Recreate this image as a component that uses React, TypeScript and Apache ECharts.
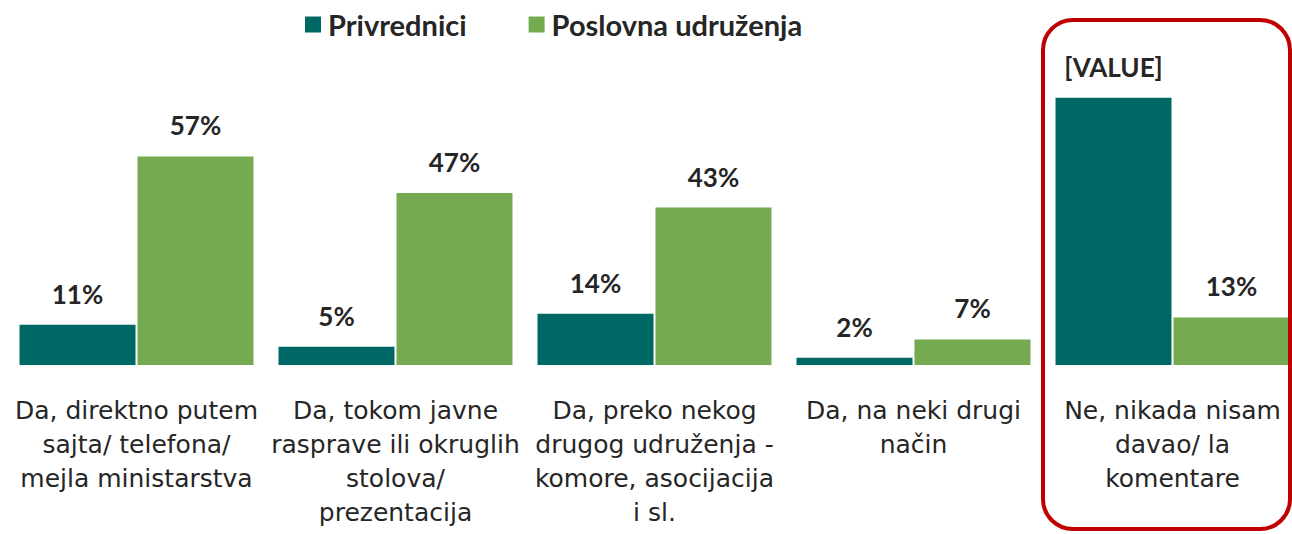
import React, { useEffect, useRef } from "react";
import * as echarts from "echarts";

const categories = [
  "Da, direktno putem\nsajta/ telefona/\nmejla ministarstva",
  "Da, tokom javne\nrasprave ili okruglih\nstolova/\nprezentacija",
  "Da, preko nekog\ndrugog udruženja -\nkomore, asocijacija\ni sl.",
  "Da, na neki drugi\nnačin",
  "Ne, nikada nisam\ndavao/ la\nkomentare",
];
const seriesNames = ["Privrednici", "Poslovna udruženja"];
const privrednici = [11, 5, 14, 2, 73];
const poslovnaUdruzenja = [57, 47, 43, 7, 13];
// label text overrides (null = use value)
const privredniciLabels: (string | null)[] = [null, null, null, null, "[VALUE]"];
const colors = ["#006864", "#74AB50"];

const FONT = "'DejaVu Sans', 'Open Sans', sans-serif";
const VFONT = "Lato, 'Open Sans', sans-serif";

export default function App() {
  const ref = useRef<HTMLDivElement>(null);
  useEffect(() => {
    document.body.style.margin = "0";
    const chart = echarts.init(ref.current!, null, { renderer: "svg" });
    const valueLabel = (overrides: (string | null)[] | null) => ({
      show: true,
      position: "top",
      distance: 18,
      fontFamily: VFONT,
      fontWeight: "bold",
      fontSize: 26,
      color: "#262626",
      formatter: (p: any) =>
        overrides && overrides[p.dataIndex] != null
          ? overrides[p.dataIndex]
          : `${p.value}%`,
    });
    chart.setOption({
      animation: false,
      textStyle: { fontFamily: FONT },
      legend: {
        top: 5,
        left: 300,
        itemWidth: 16,
        itemHeight: 16,
        itemGap: 62,
        icon: "rect",
        textStyle: {
          fontFamily: VFONT,
          fontWeight: "bold",
          fontSize: 29,
          color: "#262626",
          padding: [0, 0, 0, 2],
        },
        data: seriesNames,
      },
      graphic: [
        {
          type: "rect",
          shape: { x: 1043, y: 20, width: 247, height: 509, r: 30 },
          style: { fill: "none", stroke: "#C00000", lineWidth: 4 },
          z: 100,
        },
      ],
      grid: {
        left: 7,
        top: -1,
        width: 1295,
        height: 366,
        containLabel: false,
        outerBoundsMode: "none",
      },
      xAxis: {
        type: "category",
        data: categories,
        axisLine: { show: false },
        axisTick: { show: false },
        axisLabel: {
          interval: 0,
          margin: 28,
          fontFamily: FONT,
          fontSize: 25,
          lineHeight: 34,
          color: "#262626",
          align: "center",
        },
      },
      yAxis: {
        type: "value",
        min: 0,
        max: 100,
        show: false,
        splitLine: { show: false },
      },
      series: [
        {
          name: seriesNames[0],
          type: "bar",
          data: privrednici,
          itemStyle: { color: colors[0] },
          barWidth: 116,
          barGap: "1.7%",
          label: valueLabel(privredniciLabels),
        },
        {
          name: seriesNames[1],
          type: "bar",
          data: poslovnaUdruzenja,
          itemStyle: { color: colors[1] },
          barWidth: 116,
          barGap: "1.7%",
          label: valueLabel(null),
        },
      ],
    });
    return () => chart.dispose();
  }, []);
  return (
    <div
      ref={ref}
      style={{ position: "absolute", left: 0, top: 0, width: 1292, height: 534, background: "#fff" }}
    />
  );
}
